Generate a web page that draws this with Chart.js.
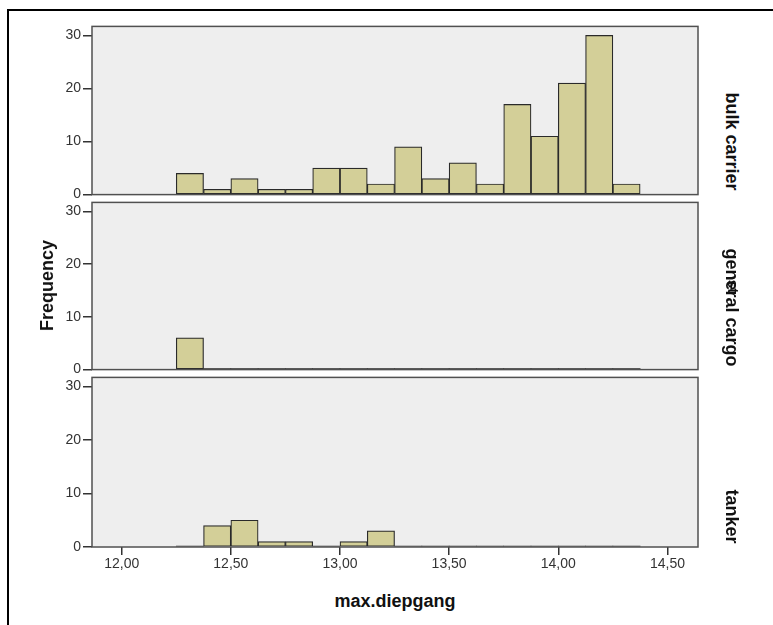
<!DOCTYPE html>
<html>
<head>
<meta charset="utf-8">
<script src="https://cdn.jsdelivr.net/npm/chart.js@4/dist/chart.umd.min.js"></script>
<style>
    body { margin: 0; width: 773px; height: 625px; overflow: hidden; background: #fff; font-family: "Liberation Sans", Arial, sans-serif; }
    .frame { position: absolute; left: 7px; top: 9px; width: 820px; height: 700px; border-left: 2px solid #000; border-top: 2px solid #000; }
    .panel { position: absolute; left: 20px; }
    .label { position: absolute; font-weight: bold; font-size: 18px; color: #111; white-space: nowrap; transform-origin: center center; }
</style>
</head>
<body>
<div class="frame"></div>
<canvas id="panel0" class="panel" width="690" height="189" style="top:16px"></canvas>
<canvas id="panel1" class="panel" width="690" height="188" style="top:192px"></canvas>
<canvas id="panel2" class="panel" width="690" height="220" style="top:367px"></canvas>

<div class="label" id="yTitle">Frequency</div>
<div class="label" id="xTitle">max.diepgang</div>
<div class="label side" id="side0"></div>
<div class="label side" id="side1"></div>
<div class="label side" id="side2"></div>
<div class="label" id="overlay" style="font-size:15px">st</div>

<script>
// bins of max.diepgang (lower edge) and counts per ship type
const binEdges = [12.25, 12.375, 12.5, 12.625, 12.75, 12.875, 13.0, 13.125, 13.25, 13.375, 13.5, 13.625, 13.75, 13.875, 14.0, 14.125, 14.25];
const binWidth = 0.125;
const bulkCarrier  = [4, 1, 3, 1, 1, 5, 5, 2, 9, 3, 6, 2, 17, 11, 21, 30, 2];
const generalCargo = [6, 0, 0, 0, 0, 0, 0, 0, 0, 0, 0, 0, 0, 0, 0, 0, 0];
const tanker       = [0, 4, 5, 1, 1, 0, 1, 3, 0, 0, 0, 0, 0, 0, 0, 0, 0];
const panelNames = ['bulk carrier', 'general cargo', 'tanker'];
const xTicks = [12.0, 12.5, 13.0, 13.5, 14.0, 14.5];
const yTicks = [0, 10, 20, 30];
const xTitle = 'max.diepgang';
const yTitle = 'Frequency';

const FONT = '"Liberation Sans", Arial, sans-serif';

// plot background + frame like SPSS
const plotFrame = {
    id: 'plotFrame',
    beforeDatasetsDraw(chart) {
        const a = chart.chartArea, ctx = chart.ctx;
        ctx.save();
        ctx.fillStyle = '#eeeeee';
        ctx.fillRect(a.left, a.top, a.right - a.left, a.bottom - a.top);
        ctx.restore();
    },
    afterDatasetsDraw(chart) {
        const a = chart.chartArea, ctx = chart.ctx;
        ctx.save();
        ctx.strokeStyle = '#505050';
        ctx.lineWidth = 1.5;
        ctx.strokeRect(a.left, a.top, a.right - a.left, a.bottom - a.top);
        ctx.restore();
    }
};

const isZero = c => c.raw && c.raw.y === 0;

function makePanel(id, counts, showX) {
    const ctx = document.getElementById(id).getContext('2d');
    return new Chart(ctx, {
        type: 'bar',
        data: {
            datasets: [{
                data: binEdges.map((e, i) => ({ x: e + binWidth / 2, y: counts[i] })),
                // empty bins are drawn as a thin dark line on the baseline
                backgroundColor: c => isZero(c) ? '#2a2a2a' : '#d3cf98',
                borderColor: '#2a2a2a',
                borderWidth: c => isZero(c) ? 0 : 1.2,
                borderSkipped: false,
                barPercentage: 1,
                categoryPercentage: 1,
                minBarLength: 1
            }]
        },
        options: {
            responsive: false,
            animation: false,
            layout: { padding: { top: 10, right: 12, bottom: showX ? 0 : 10, left: 0 } },
            plugins: { legend: { display: false }, tooltip: { enabled: false } },
            scales: {
                x: {
                    type: 'linear',
                    display: showX,
                    offset: false,
                    min: 11.864,
                    max: 14.64,
                    afterBuildTicks: s => { s.ticks = xTicks.map(v => ({ value: v })); },
                    afterFit: s => { s.height = showX ? 40 : 0; },
                    grid: { offset: false, drawOnChartArea: false, tickLength: 8, color: '#333', lineWidth: 1.5 },
                    border: { display: false },
                    ticks: {
                        padding: 1,
                        color: '#333',
                        font: { family: FONT, size: 14 },
                        maxRotation: 0,
                        callback: v => v.toFixed(2).replace('.', ',')
                    }
                },
                y: {
                    min: 0,
                    max: 31.7,
                    afterBuildTicks: s => { s.ticks = yTicks.map(v => ({ value: v })); },
                    afterFit: s => { s.width = 72; },
                    grid: { drawOnChartArea: false, tickLength: 9, color: '#333', lineWidth: 1.5 },
                    border: { display: false },
                    ticks: { padding: 2, color: '#333', font: { family: FONT, size: 14 } }
                }
            }
        },
        plugins: [plotFrame]
    });
}

makePanel('panel0', bulkCarrier, false);
makePanel('panel1', generalCargo, false);
makePanel('panel2', tanker, true);

// titles and panel labels
function place(el, text, cx, cy, rot) {
    el.textContent = text;
    const w = el.offsetWidth, h = el.offsetHeight;
    el.style.left = (cx - w / 2) + 'px';
    el.style.top = (cy - h / 2) + 'px';
    if (rot) el.style.transform = 'rotate(' + rot + 'deg)';
}
place(document.getElementById('yTitle'), yTitle, 47, 285, -90);
place(document.getElementById('xTitle'), xTitle, 395, 601, 0);
const sideY = [141, 307, 516];
panelNames.forEach((n, i) => place(document.getElementById('side' + i), n, 731, sideY[i], 90));
place(document.getElementById('overlay'), 'st', 733, 286, 90);
</script>
</body>
</html>
